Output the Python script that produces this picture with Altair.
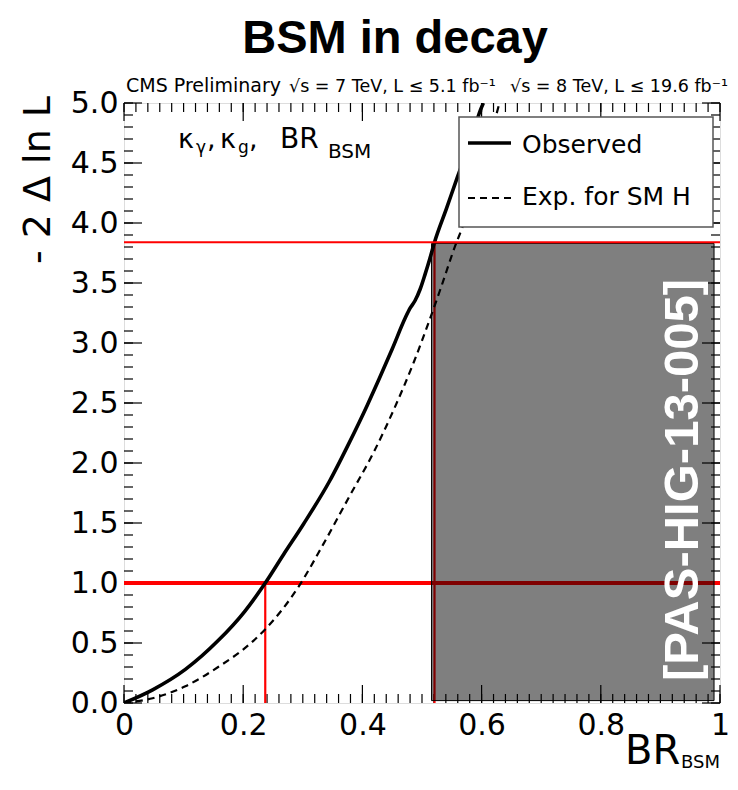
import altair as alt
import pandas as pd

# ---------------- data ----------------
obs_x = [0.0, 0.048, 0.103, 0.158, 0.202, 0.237, 0.268, 0.301, 0.345, 0.378, 0.408,
         0.428, 0.450, 0.472, 0.480, 0.488, 0.497, 0.505, 0.513, 0.521, 0.541, 0.560,
         0.582, 0.598, 0.603]
obs_y = [0.0, 0.11, 0.28, 0.52, 0.76, 1.00, 1.24, 1.49, 1.85, 2.17, 2.48,
         2.70, 2.95, 3.21, 3.29, 3.35, 3.45, 3.57, 3.70, 3.84, 4.12, 4.39,
         4.69, 4.94, 5.00]
exp_x = [0.0, 0.048, 0.103, 0.158, 0.213, 0.238, 0.293, 0.334, 0.378, 0.420, 0.454,
         0.487, 0.514, 0.531, 0.558, 0.566, 0.630]
exp_y = [0.0, 0.04, 0.14, 0.30, 0.50, 0.62, 0.97, 1.32, 1.72, 2.10, 2.46,
         2.85, 3.21, 3.45, 3.84, 3.94, 5.00]

cl_levels = [1.0, 3.84]          # thresholds of -2 Delta ln L
cl_limits = [0.237, 0.521]       # BR_BSM at those thresholds
excluded_x = [0.516, 0.99]
excluded_y = [0.02, 3.83]

x_major = [0.0, 0.2, 0.4, 0.6, 0.8, 1.0]
x_minor = [round(i * 0.02, 2) for i in range(51)]
y_major = [0.0, 0.5, 1.0, 1.5, 2.0, 2.5, 3.0, 3.5, 4.0, 4.5, 5.0]
y_minor = [round(i * 0.1, 1) for i in range(51)]

W, H = 596, 600
XD, YD = [0, 1], [0, 5]
FONT = "DejaVu Sans"

xs = alt.Scale(domain=XD, nice=False, zero=False)
ys = alt.Scale(domain=YD, nice=False, zero=False)

AX = alt.Axis(values=x_major, ticks=False, domain=False, grid=False,
              labelFont=FONT, labelFontSize=30, labelColor="black",
              labelPadding=7, labelFlush=False, labelOverlap=False,
              labelExpr="datum.value == 0 ? '0' : datum.value == 1 ? '1' : format(datum.value, '.1f')")
AY = alt.Axis(values=y_major, ticks=False, domain=False, grid=False,
              labelFont=FONT, labelFontSize=30, labelColor="black",
              labelPadding=6, labelFlush=False, labelOverlap=False, format=".1f")


def X(field, **kw):
    return alt.X(field, scale=xs, axis=AX, title=None, **kw)


def Y(field, **kw):
    return alt.Y(field, scale=ys, axis=AY, title=None, **kw)


one = pd.DataFrame({"a": [0]})


def txt(text, x, y, size, font=FONT, weight="normal", align="left",
        baseline="alphabetic", angle=0, color="black"):
    kw = dict(text=text, fontSize=size, font=font, fontWeight=weight,
              align=align, baseline=baseline, color=color)
    if angle:
        kw["angle"] = angle
    return alt.Chart(one).mark_text(**kw).encode(x=alt.value(x), y=alt.value(y))


# ---------------- inward ticks on all four sides ----------------
tick_layers = []
for vals, ln in ((x_major, 18), (x_minor, 9)):
    d = pd.DataFrame({"v": vals})
    tick_layers.append(alt.Chart(d).mark_rule(color="black", strokeWidth=1.2).encode(
        x=X("v:Q"), y=alt.value(H), y2=alt.value(H - ln)))
    tick_layers.append(alt.Chart(d).mark_rule(color="black", strokeWidth=1.2).encode(
        x=X("v:Q"), y=alt.value(0), y2=alt.value(ln)))
for vals, ln in ((y_major, 18), (y_minor, 9)):
    d = pd.DataFrame({"v": vals})
    tick_layers.append(alt.Chart(d).mark_rule(color="black", strokeWidth=1.2).encode(
        y=Y("v:Q"), x=alt.value(0), x2=alt.value(ln)))
    tick_layers.append(alt.Chart(d).mark_rule(color="black", strokeWidth=1.2).encode(
        y=Y("v:Q"), x=alt.value(W), x2=alt.value(W - ln)))

# ---------------- red CL lines ----------------
cl = pd.DataFrame({"level": cl_levels, "limit": cl_limits, "zero": [0.0, 0.0]})
h68 = alt.Chart(cl.iloc[[0]]).mark_rule(color="#ff0000", strokeWidth=4).encode(y=Y("level:Q"))
h95 = alt.Chart(cl.iloc[[1]]).mark_rule(color="#ff0000", strokeWidth=2).encode(y=Y("level:Q"))
vlines = alt.Chart(cl).mark_rule(color="#ff0000", strokeWidth=2.2).encode(
    x=X("limit:Q"), y=Y("zero:Q"), y2="level:Q")

# ---------------- curves ----------------
obs = alt.Chart(pd.DataFrame({"x": obs_x, "y": obs_y})).mark_line(
    color="black", strokeWidth=3.6, interpolate="monotone", clip=True).encode(
    x=X("x:Q"), y=Y("y:Q"))
exp = alt.Chart(pd.DataFrame({"x": exp_x, "y": exp_y})).mark_line(
    color="black", strokeWidth=2.2, strokeDash=[7, 5], interpolate="monotone", clip=True).encode(
    x=X("x:Q"), y=Y("y:Q"))

# ---------------- excluded region ----------------
excl = alt.Chart(pd.DataFrame({"x": [excluded_x[0]], "x2": [excluded_x[1]],
                               "y": [excluded_y[0]], "y2": [excluded_y[1]]})).mark_rect(
    color="black", fillOpacity=0.5, stroke="black", strokeWidth=1).encode(
    x=X("x:Q"), x2="x2:Q", y=Y("y:Q"), y2="y2:Q")

# ---------------- legend ----------------
leg_box = alt.Chart(one).mark_rect(fill="white", stroke="#555555", strokeWidth=1.5).encode(
    x=alt.value(335), x2=alt.value(589), y=alt.value(14), y2=alt.value(124))
leg_obs = alt.Chart(one).mark_rule(color="black", strokeWidth=3.6).encode(
    x=alt.value(344), x2=alt.value(387), y=alt.value(40))
leg_exp = alt.Chart(one).mark_rule(color="black", strokeWidth=2.2, strokeDash=[7, 5]).encode(
    x=alt.value(344), x2=alt.value(387), y=alt.value(95))

texts = [
    txt("Observed", 398, 42, 25, baseline="middle"),
    txt("Exp. for SM H", 398, 94, 25, baseline="middle"),
    # header
    txt("BSM in decay", 271, -50, 47, font="Liberation Sans", weight="bold", align="center"),
    txt("CMS Preliminary", 2, -11, 19),
    txt("\u221As = 7 TeV, L \u2264 5.1 fb\u207B\u00B9", 165, -11, 17.5),
    txt("\u221As = 8 TeV, L \u2264 19.6 fb\u207B\u00B9", 386, -11, 17.5),
    # model annotation
    txt("\u03BA", 54, 45, 27),
    txt("\u03B3", 72, 50, 17),
    txt(",", 83, 45, 27),
    txt("\u03BA", 96, 45, 27),
    txt("g", 114, 50, 17),
    txt(",", 125, 45, 27),
    txt("BR", 156, 45, 28),
    txt("BSM", 204, 55, 20),
    # axis titles
    txt("BR", 501, 661, 40),
    txt("BSM", 557, 665, 18),
    txt("- 2 \u0394 ln L", -74, -7, 38, align="right", angle=270),
    # watermark
    txt("[PAS-HIG-13-005]", 574, 377, 49, font="Liberation Sans", weight="bold",
        align="center", angle=270, color="white"),
]

chart = alt.layer(
    *tick_layers, h68, vlines, obs, exp, excl, h95,
    leg_box, leg_obs, leg_exp, *texts
).properties(
    width=W, height=H,
    autosize=alt.AutoSizeParams(type="none"),
    padding={"left": 116, "top": 95, "right": 10, "bottom": 71},
).configure_view(stroke="black", strokeWidth=2).configure(background="white")

chart.save("out.html", embed_options={"renderer": "svg", "actions": False})
